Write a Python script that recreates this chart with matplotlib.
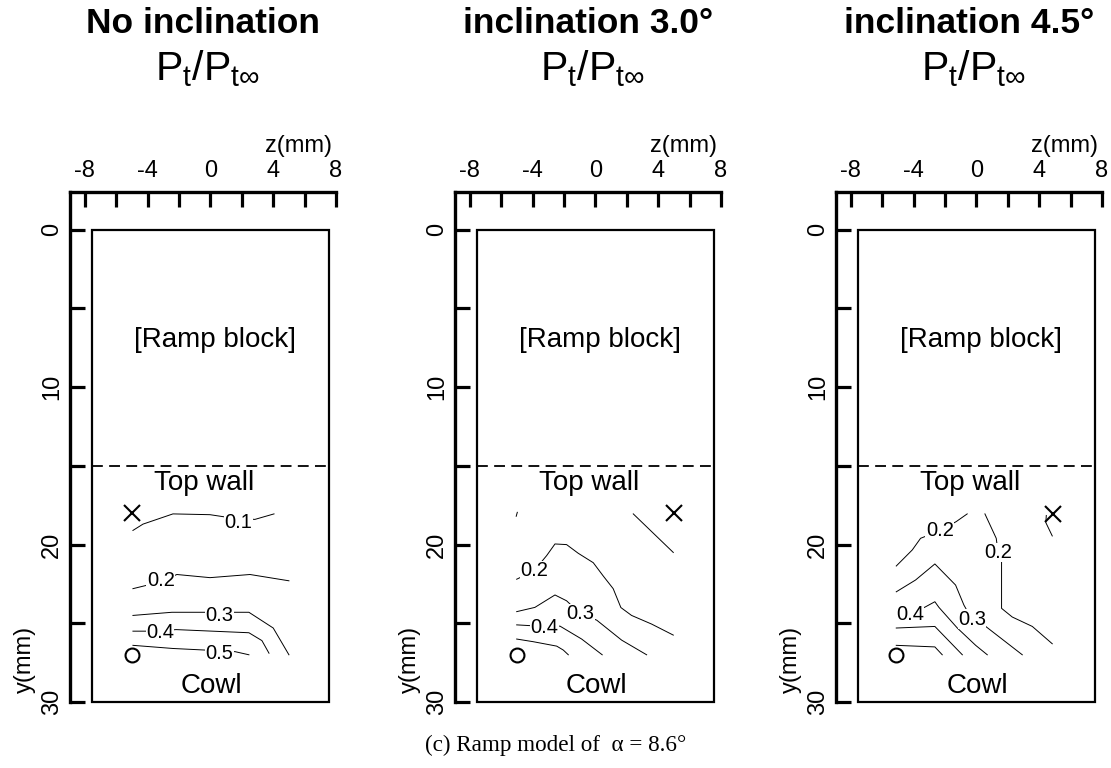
import matplotlib
matplotlib.use("Agg")
import matplotlib.pyplot as plt
from matplotlib.patches import Rectangle

plt.rcParams["font.family"] = ["Liberation Sans", "DejaVu Sans"]
plt.rcParams["axes.unicode_minus"] = False
plt.rcParams["mathtext.fontset"] = "custom"
plt.rcParams["mathtext.rm"] = "Liberation Sans"
plt.rcParams["mathtext.it"] = "Liberation Sans:italic"
plt.rcParams["mathtext.bf"] = "Liberation Sans:bold"

# panel titles
titles = ["No inclination", "inclination 3.0°", "inclination 4.5°"]

# contour lines (z in mm, y in mm)
noincl_lines = [
    ([-4.94, -4.30, -2.39, -0.03, 1.3, 2.83, 4.05], [19.1, 18.7, 18.05, 18.1, 18.3, 18.4, 18.05]),
    ([-4.94, -3.3, -2.14, -0.03, 2.52, 5.0], [22.8, 22.4, 21.9, 22.1, 21.9, 22.3]),
    ([-4.94, -2.46, -0.35, 0.54, 2.45, 4.0, 5.0], [24.5, 24.3, 24.3, 24.3, 24.3, 25.3, 27.0]),
    ([-4.94, -3.22, -2.2, 2.45, 3.28, 3.73], [25.5, 25.5, 25.4, 25.6, 26.1, 26.9]),
    ([-4.94, -2.39, -0.35, 0.54, 1.56, 2.45], [26.4, 26.6, 26.7, 26.8, 26.8, 27.0]),
]
noincl_labels = [("0.1", 1.78, 18.6), ("0.2", -3.17, 22.3), ("0.3", 0.56, 24.5),
                 ("0.4", -3.22, 25.6), ("0.5", 0.56, 26.9)]

incl30_lines = [
    ([-5.05, -4.98], [18.2, 17.95]),
    ([2.41, 4.96], [18.05, 20.5]),
    ([-5.02, -3.92, -3.11, -2.58, -1.84, -1.1, -0.14, 0.5, 1.13, 1.62, 2.3, 3.58, 4.96],
     [22.2, 21.67, 20.7, 19.96, 20.0, 20.55, 21.15, 22.0, 22.8, 24.0, 24.5, 25.05, 25.75]),
    ([-5.02, -3.86, -2.58, -1.84, -0.96, 0.08, 1.67, 3.26], [24.26, 23.99, 23.2, 23.57, 24.4, 24.8, 26.07, 27.0]),
    ([-5.02, -3.27, -2.26, -0.88, 0.43], [25.1, 25.2, 25.18, 26.0, 27.0]),
    ([-5.02, -3.96, -2.47, -2.05, -1.73], [26.0, 26.17, 26.45, 26.7, 27.0]),
]
incl30_labels = [("0.2", -3.92, 21.67), ("0.3", -0.96, 24.4), ("0.4", -3.27, 25.27)]

incl45_lines = [
    ([-5.11, -4.09, -3.56, -2.34, -1.29, -0.59], [21.36, 20.34, 19.6, 19.12, 18.54, 18.05]),
    ([0.54, 1.26, 1.38, 1.6, 1.6, 2.28, 3.56, 4.83], [18.05, 19.6, 20.5, 20.9, 24.05, 24.6, 25.2, 26.3]),
    ([4.45, 4.42, 4.83], [18.15, 18.6, 19.45]),
    ([-5.11, -3.88, -2.65, -1.33, -0.8, -0.29, 0.59, 2.92], [23.0, 22.25, 21.23, 22.57, 23.84, 24.75, 25.2, 27.0]),
    ([-5.11, -4.25, -3.24, -2.65, -2.39, -1.22, -0.05, 0.69], [24.4, 24.45, 23.95, 23.63, 23.99, 25.3, 26.4, 27.0]),
    ([-5.11, -2.65, -0.9], [25.3, 25.2, 27.0]),
    ([-5.11, -2.65, -2.18], [26.4, 26.5, 27.0]),
]
incl45_labels = [("0.2", -2.34, 19.12), ("0.2", 1.38, 20.5), ("0.3", -0.29, 24.75), ("0.4", -4.25, 24.45)]

# probe markers: x = top, o = bottom
x_marks = [(-5.0, 18.0), (5.0, 18.0), (4.85, 18.05)]
o_marks = [(-5.0, 27.0), (-5.0, 27.0), (-5.1, 27.0)]

panel_lines = [noincl_lines, incl30_lines, incl45_lines]
panel_labels = [noincl_labels, incl30_labels, incl45_labels]

fig = plt.figure(figsize=(11.11, 7.68), dpi=100)
lefts = [70, 455, 836]

for i in range(3):
    ax = fig.add_axes([lefts[i] / 1111, (768 - 702) / 768, 266 / 1111, 510 / 768])
    ax.set_xlim(-8.95, 8)
    ax.set_ylim(30, -2.4)
    for s in ["right", "bottom"]:
        ax.spines[s].set_visible(False)
    for s in ["left", "top"]:
        ax.spines[s].set_linewidth(2.4)
    ax.xaxis.tick_top()
    ax.set_xticks([-8, -4, 0, 4, 8])
    ax.set_xticks([-6, -2, 2, 6], minor=True)
    ax.set_yticks([0, 10, 20, 30])
    ax.set_yticks([5, 15, 25], minor=True)
    ax.tick_params(which="both", direction="in", length=11, width=2.3, labelsize=17)
    ax.tick_params(axis="x", which="both", top=True, bottom=False, labeltop=True, labelbottom=False, pad=7)
    ax.tick_params(axis="y", which="both", left=True, right=False, labelrotation=90, pad=5)
    for lab in ax.get_yticklabels():
        lab.set_va("center")

    ax.add_patch(Rectangle((-7.55, 0), 15.1, 30, fill=False, lw=1.6, ec="black", clip_on=False))
    ax.plot([-7.55, 7.55], [15, 15], color="black", lw=1.3, dashes=(6, 3.5))

    ax.text(0.3, 7.0, "[Ramp block]", fontsize=20, ha="center", va="center")
    ax.text(-0.4, 16.5, "Top wall", fontsize=20, ha="center", va="baseline")
    ax.text(0.05, 29.4, "Cowl", fontsize=20, ha="center", va="baseline")

    for zs, ys in panel_lines[i]:
        ax.plot(zs, ys, color="black", lw=0.7)
    for txt, zl, yl in panel_labels[i]:
        ax.text(zl, yl, txt, fontsize=14.5, ha="center", va="center",
                bbox=dict(facecolor="white", edgecolor="none", pad=0.3))

    ax.plot(*x_marks[i], marker="x", ms=11, mew=1.5, color="black")
    ax.plot(*o_marks[i], marker="o", ms=10, mew=1.5, mfc="none", color="black")

    ax.text(5.6, -5.3, "z(mm)", fontsize=17, ha="center", va="center", clip_on=False)
    ax.text(-11.8, 27.3, "y(mm)", fontsize=17, ha="center", va="center", rotation=90, clip_on=False)
    ax.text(-0.47, -12.52, titles[i], fontsize=25.5, fontweight="bold",
            ha="center", va="baseline", clip_on=False)
    ax.text(-0.2, -9.5, r"$\mathrm{P_t/P_{t\infty}}$", fontsize=29.5, ha="center", va="baseline", clip_on=False)

fig.text(0.5, 0.03, "(c) Ramp model of  α = 8.6°", fontsize=16.7, family="Liberation Serif",
         ha="center", va="center")

fig.savefig("out.png", dpi=100)
